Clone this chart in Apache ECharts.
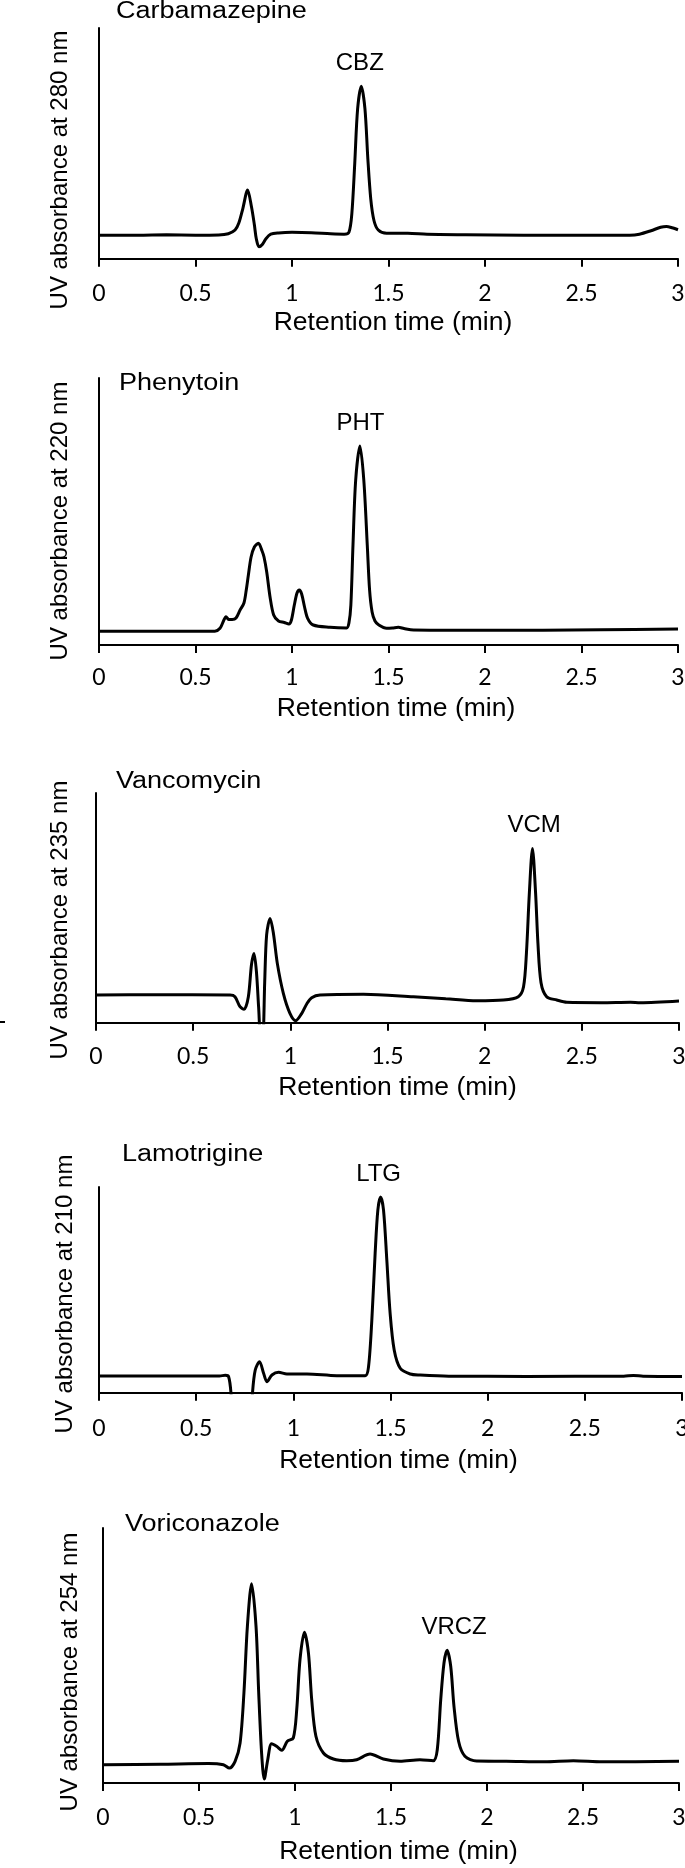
<!DOCTYPE html>
<html>
<head>
<meta charset="utf-8">
<script src="https://cdn.jsdelivr.net/npm/echarts@6/dist/echarts.min.js"></script>
<style>html,body{margin:0;padding:0;background:#fff}#c{width:685px;height:1868px}</style>
</head>
<body>
<div id="c"></div>
<script>
// ---------------- DATA ----------------
const compounds   = ['Carbamazepine', 'Phenytoin', 'Vancomycin', 'Lamotrigine', 'Voriconazole'];
const peakLabels  = ['CBZ', 'PHT', 'VCM', 'LTG', 'VRCZ'];
const peakTimes   = [1.36, 1.35, 2.25, 1.45, 1.79];   // retention time of labelled analyte (min)
const wavelengths = [280, 220, 235, 210, 254];        // nm
const xTickValues = [0, 0.5, 1, 1.5, 2, 2.5, 3];      // retention time ticks (min)
const yMaxes      = [231, 267, 230, 205.5, 255];      // relative absorbance full scale

// chromatograms: [retention time (min), relative absorbance]
const carbamazepine = [[0,23.5],[0.2,23.5],[0.35,23.9],[0.5,23.6],[0.62,23.8],[0.67,25],[0.705,28.7],[0.725,36],[0.745,50],[0.77,68.7],[0.79,52],[0.805,34],[0.815,20],[0.829,12],[0.845,14],[0.865,20],[0.89,24.5],[0.93,25.8],[1.0,26.4],[1.1,26],[1.2,25],[1.27,24.6],[1.295,26.5],[1.31,45],[1.325,95],[1.34,150],[1.359,172.7],[1.378,150],[1.393,100],[1.408,60],[1.425,38],[1.447,28.7],[1.49,25.4],[1.6,25.5],[1.7,24.5],[1.9,24],[2.2,23.5],[2.5,23.5],[2.75,23.5],[2.8,24.5],[2.86,28],[2.91,31.5],[2.94,32.3],[2.97,31],[3.0,29]];
const phenytoin = [[0,13.7],[0.3,13.7],[0.6,13.7],[0.627,16.7],[0.645,24],[0.658,28.3],[0.672,25.5],[0.69,25.5],[0.71,27],[0.731,35],[0.751,42],[0.763,55],[0.774,70],[0.788,88],[0.805,98],[0.826,101.7],[0.845,94],[0.855,88],[0.869,73],[0.886,48.3],[0.905,30],[0.93,24],[0.96,22.5],[0.984,21],[0.997,25],[1.012,40],[1.026,52],[1.038,55],[1.05,51],[1.065,38],[1.081,26.7],[1.11,20],[1.197,17.7],[1.283,17],[1.295,22],[1.305,40],[1.316,100],[1.33,165],[1.352,199],[1.372,165],[1.39,100],[1.402,55],[1.415,33],[1.43,24],[1.45,20],[1.49,16.7],[1.52,17],[1.551,17.7],[1.58,16.5],[1.63,15],[1.8,14.8],[2.0,14.7],[2.3,14.8],[2.6,15.3],[3.0,16]];
const vancomycin = [[0,27.7],[0.3,28],[0.69,27.7],[0.715,26],[0.741,16],[0.762,13.4],[0.784,26],[0.8,58],[0.813,69.4],[0.826,50],[0.837,15],[0.848,-15],[0.858,-15],[0.868,40],[0.878,88],[0.896,104.4],[0.913,89.4],[0.933,59.4],[0.964,29.4],[0.998,9.4],[1.028,2],[1.059,9.4],[1.085,19],[1.11,25],[1.153,27.7],[1.376,28.4],[1.633,26],[1.8,24],[1.959,22],[2.096,22.7],[2.173,26],[2.2,36],[2.215,70],[2.23,130],[2.246,174.4],[2.262,130],[2.274,80],[2.29,40],[2.319,26],[2.371,22.7],[2.423,20.4],[2.6,20],[2.75,20.5],[2.8,20],[3.0,21.7]];
const lamotrigine = [[0,16.7],[0.3,16.7],[0.62,16.7],[0.65,17.4],[0.667,16],[0.679,0],[0.69,-40],[0.78,-40],[0.79,0],[0.804,22.7],[0.826,31],[0.847,19.4],[0.864,11],[0.89,17.7],[0.924,20.4],[0.967,18.7],[1.07,18.7],[1.224,17],[1.37,17],[1.387,26],[1.404,72.7],[1.421,139.4],[1.435,182.7],[1.449,195.4],[1.464,182.7],[1.481,132.7],[1.498,79.4],[1.519,42.7],[1.55,24.4],[1.601,18.7],[1.653,17.7],[1.8,16.5],[2.2,16.3],[2.7,16.5],[2.75,17.2],[2.8,16.5],[3.0,16.3]];
const voriconazole = [[0,18.3],[0.3,18.8],[0.55,19.5],[0.627,18.3],[0.658,15],[0.688,21.7],[0.714,40],[0.734,90],[0.752,156.7],[0.774,199.3],[0.797,156.7],[0.811,90],[0.826,30],[0.84,4],[0.858,23.3],[0.878,39.3],[0.904,36.7],[0.931,32.7],[0.96,41.7],[0.991,45],[1.009,73.3],[1.026,123.3],[1.049,150.7],[1.07,130],[1.087,83.3],[1.109,46.7],[1.148,30],[1.2,24],[1.269,22.3],[1.321,23.3],[1.391,29],[1.46,24],[1.547,21.7],[1.651,23.3],[1.72,22.3],[1.741,33.3],[1.759,83.3],[1.776,120],[1.792,132.7],[1.811,116.7],[1.828,76.7],[1.852,41.7],[1.885,26.7],[1.946,22],[2.1,21.8],[2.3,21.2],[2.45,22.2],[2.6,21.2],[3.0,21.7]];
const traces = [carbamazepine, phenytoin, vancomycin, lamotrigine, voriconazole];

// ---------------- LAYOUT ----------------
const layout = [
  {left:99,  top:28,   width:579, height:230.7, titleX:116, titleY:12,   yNameX:60.5, yNameY:170,  margin:23,   gap:50, namePad:9,  peakDx:-1.5},
  {left:99,  top:378,  width:579, height:267,   titleX:119, titleY:384,  yNameX:60.5, yNameY:521,  margin:21.5, gap:50, namePad:15, peakDx:0.5},
  {left:96,  top:793,  width:583, height:229.7, titleX:116, titleY:782,  yNameX:60.5, yNameY:920,  margin:22.5, gap:51, namePad:20, peakDx:1.7},
  {left:99,  top:1187, width:583, height:205.7, titleX:122, titleY:1155, yNameX:65,   yNameY:1294, margin:24,   gap:54, namePad:16, peakDx:-2},
  {left:103, top:1528, width:576, height:255,   titleX:125, titleY:1525, yNameX:70,   yNameY:1672, margin:23.5, gap:55, namePad:15, peakDx:7}
];

const BLACK = '#000';
const SANS = '"Liberation Sans", Arial, sans-serif';

function peakNear(data, t0) {
  let best = null;
  data.forEach(p => { if (Math.abs(p[0] - t0) <= 0.06 && (!best || p[1] > best[1])) best = p; });
  return best;
}

const grids = [], xAxes = [], yAxes = [], series = [], graphics = [];
layout.forEach((L, i) => {
  grids.push({left: L.left, top: L.top, width: L.width, height: L.height, outerBoundsMode: 'none', containLabel: false});
  xAxes.push({
    gridIndex: i, type: 'value', min: xTickValues[0], max: xTickValues[xTickValues.length - 1],
    interval: xTickValues[1] - xTickValues[0],
    name: 'Retention time (min)', nameLocation: 'middle', nameGap: L.gap,
    nameTextStyle: {color: BLACK, fontSize: 26.5, fontFamily: SANS, padding: [0, 0, 0, L.namePad]},
    axisLine: {show: true, onZero: false, lineStyle: {color: BLACK, width: 2}},
    axisTick: {show: true, inside: false, length: 8, lineStyle: {color: BLACK, width: 2}},
    axisLabel: {show: true, color: BLACK, fontSize: 23, fontFamily: 'Lato, sans-serif', margin: L.margin, showMinLabel: true, showMaxLabel: true},
    splitLine: {show: false}
  });
  yAxes.push({
    gridIndex: i, type: 'value', min: 0, max: yMaxes[i],
    axisLine: {show: true, onZero: false, lineStyle: {color: BLACK, width: 2}},
    axisTick: {show: false}, axisLabel: {show: false}, splitLine: {show: false}
  });
  const pk = peakNear(traces[i], peakTimes[i]);
  series.push({
    type: 'line', xAxisIndex: i, yAxisIndex: i, data: traces[i],
    showSymbol: false, smooth: 0.3, clip: true,
    lineStyle: {color: BLACK, width: 3}, itemStyle: {color: BLACK},
    animation: false, silent: true,
    markPoint: {
      symbol: 'circle', symbolSize: 0, silent: true, animation: false,
      itemStyle: {color: 'rgba(0,0,0,0)'},
      label: {show: true, position: 'top', distance: 11, offset: [L.peakDx, 0], formatter: '{b}',
              color: BLACK, fontSize: 24, fontFamily: SANS},
      data: [{name: peakLabels[i], coord: pk}]
    }
  });
  graphics.push({
    type: 'text', x: L.titleX, y: L.titleY, scaleX: 1.15, scaleY: 1,
    style: {text: compounds[i], fontSize: 23.5, fontFamily: SANS, fill: BLACK, align: 'left', verticalAlign: 'middle'}
  });
  graphics.push({
    type: 'text', x: L.yNameX, y: L.yNameY, rotation: Math.PI / 2,
    style: {text: 'UV absorbance at ' + wavelengths[i] + ' nm', fontSize: 24, fontFamily: SANS, fill: BLACK, align: 'center', verticalAlign: 'middle'}
  });
});
// small stray tick mark at left of the third panel (present in the original figure)
graphics.push({type: 'line', shape: {x1: 0, y1: 1022, x2: 5, y2: 1022}, style: {stroke: BLACK, lineWidth: 2}});

const chart = echarts.init(document.getElementById('c'), null, {renderer: 'canvas'});
chart.setOption({
  backgroundColor: '#fff',
  animation: false,
  grid: grids, xAxis: xAxes, yAxis: yAxes, series: series, graphic: graphics
});
</script>
</body>
</html>
